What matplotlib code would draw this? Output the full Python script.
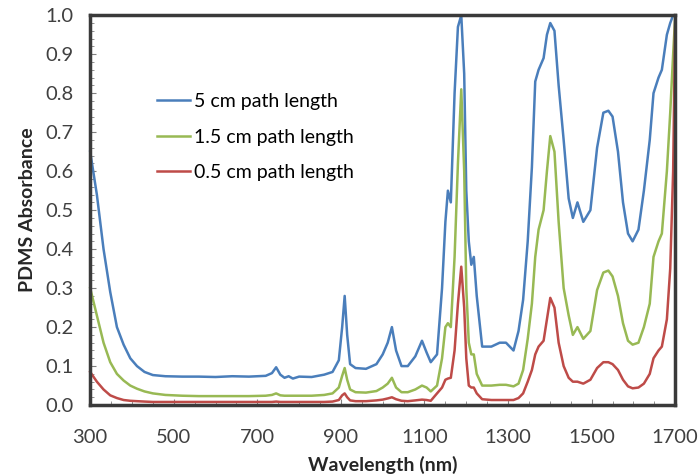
import matplotlib
matplotlib.use("Agg")
import matplotlib.pyplot as plt
from matplotlib.ticker import MultipleLocator

plt.rcParams["font.family"] = ["Lato", "DejaVu Sans"]

wavelength = [300, 316, 332, 348, 364, 380, 396, 412, 430, 450, 480, 520, 560, 600,
              640, 680, 720, 735, 745, 755, 765, 775, 785, 800, 830, 860, 880, 895,
              903, 909, 915, 922, 935, 960, 985, 1000, 1012, 1022, 1032, 1045, 1060,
              1078, 1094, 1105, 1115, 1130, 1142, 1150, 1156, 1163, 1172, 1180, 1188,
              1195, 1200, 1206, 1212, 1218, 1225, 1238, 1260, 1280, 1295, 1313, 1325,
              1336, 1347, 1357, 1365, 1373, 1385, 1393, 1401, 1411, 1421, 1433, 1445,
              1455, 1466, 1480, 1497, 1513, 1528, 1540, 1550, 1563, 1575, 1587, 1598,
              1612, 1625, 1639, 1648, 1660, 1668, 1680, 1688, 1695, 1700]

path_5cm = [0.65, 0.54, 0.40, 0.29, 0.20, 0.155, 0.12, 0.10, 0.085, 0.077, 0.074, 0.073,
            0.073, 0.072, 0.074, 0.073, 0.075, 0.082, 0.097, 0.078, 0.070, 0.074, 0.068,
            0.073, 0.072, 0.078, 0.085, 0.115, 0.20, 0.28, 0.18, 0.105, 0.095, 0.093,
            0.105, 0.13, 0.16, 0.20, 0.14, 0.10, 0.10, 0.125, 0.165, 0.135, 0.11, 0.13,
            0.30, 0.47, 0.55, 0.52, 0.80, 0.97, 1.0, 0.85, 0.55, 0.42, 0.36, 0.38, 0.28,
            0.15, 0.15, 0.16, 0.16, 0.14, 0.19, 0.27, 0.42, 0.61, 0.83, 0.86, 0.89, 0.95,
            0.98, 0.96, 0.82, 0.68, 0.53, 0.48, 0.52, 0.47, 0.50, 0.66, 0.75, 0.755, 0.74,
            0.65, 0.52, 0.44, 0.42, 0.45, 0.55, 0.68, 0.80, 0.84, 0.86, 0.95, 0.98, 1.0, 1.0]

path_15cm = [0.30, 0.23, 0.16, 0.11, 0.08, 0.063, 0.05, 0.042, 0.035, 0.03, 0.026, 0.024,
             0.023, 0.023, 0.023, 0.023, 0.024, 0.026, 0.03, 0.025, 0.024, 0.024, 0.024,
             0.024, 0.024, 0.026, 0.03, 0.045, 0.075, 0.095, 0.065, 0.04, 0.033, 0.032,
             0.036, 0.045, 0.055, 0.07, 0.045, 0.033, 0.033, 0.04, 0.05, 0.045, 0.035,
             0.05, 0.12, 0.20, 0.21, 0.20, 0.38, 0.62, 0.81, 0.60, 0.30, 0.16, 0.13, 0.13,
             0.08, 0.05, 0.05, 0.052, 0.052, 0.048, 0.055, 0.09, 0.17, 0.26, 0.38, 0.45,
             0.50, 0.60, 0.69, 0.65, 0.47, 0.30, 0.23, 0.18, 0.20, 0.17, 0.19, 0.295, 0.34,
             0.345, 0.33, 0.28, 0.21, 0.165, 0.155, 0.16, 0.20, 0.26, 0.38, 0.42, 0.44,
             0.60, 0.75, 0.90, 1.0]

path_05cm = [0.085, 0.06, 0.04, 0.025, 0.018, 0.013, 0.011, 0.010, 0.009, 0.008, 0.008,
             0.008, 0.008, 0.008, 0.008, 0.008, 0.008, 0.008, 0.009, 0.008, 0.008, 0.008,
             0.008, 0.008, 0.008, 0.008, 0.009, 0.013, 0.025, 0.03, 0.02, 0.012, 0.01,
             0.01, 0.012, 0.014, 0.017, 0.02, 0.015, 0.011, 0.01, 0.012, 0.014, 0.013,
             0.011, 0.03, 0.045, 0.065, 0.068, 0.07, 0.14, 0.26, 0.355, 0.25, 0.12, 0.05,
             0.045, 0.045, 0.03, 0.015, 0.013, 0.013, 0.013, 0.013, 0.018, 0.03, 0.06,
             0.09, 0.13, 0.15, 0.165, 0.22, 0.275, 0.25, 0.16, 0.10, 0.07, 0.06, 0.06,
             0.055, 0.065, 0.095, 0.11, 0.11, 0.105, 0.09, 0.065, 0.048, 0.043, 0.045,
             0.055, 0.08, 0.12, 0.14, 0.15, 0.22, 0.35, 0.60, 1.0]

series = [
    ("5 cm path length", path_5cm, "#4a7ebb"),
    ("1.5 cm path length", path_15cm, "#98b954"),
    ("0.5 cm path length", path_05cm, "#be4b48"),
]

fig = plt.figure(figsize=(6.99, 4.76), dpi=100)
ax = fig.add_axes([0.129, 0.149, 0.837, 0.819])

for label, values, color in series:
    ax.plot(wavelength, values, color=color, lw=1.8, label=label, clip_on=False)

ax.set_xlim(300, 1700)
ax.set_ylim(0, 1.0)
ax.set_xticks(range(300, 1701, 200))
ax.set_yticks([i / 10 for i in range(11)])
ax.yaxis.set_major_formatter(plt.FuncFormatter(lambda v, _: f"{v:.1f}"))
ax.xaxis.set_minor_locator(MultipleLocator(50))
ax.yaxis.set_minor_locator(MultipleLocator(0.02))
ax.tick_params(which="both", direction="in", color="#808080", labelsize=14.5,
               labelcolor="#404040")
ax.tick_params(which="major", length=4, width=0.8)
ax.tick_params(axis="x", which="major", pad=17)
ax.tick_params(axis="y", which="major", pad=12)
ax.tick_params(which="minor", length=3, width=0.6)

for side in ax.spines.values():
    side.set_linewidth(2.5)
    side.set_color("#3a3a3a")

ax.set_xlabel("Wavelength (nm)", fontsize=14, fontweight="bold", labelpad=7,
              color="#262626")
ax.set_ylabel("PDMS Absorbance", fontsize=14, fontweight="bold", labelpad=7,
              color="#262626")

ax.legend(loc="upper left", bbox_to_anchor=(0.085, 0.845), frameon=False,
          fontsize=14, handlelength=1.7, handletextpad=0.2, labelspacing=0.95)

fig.savefig("out.png", dpi=100)
